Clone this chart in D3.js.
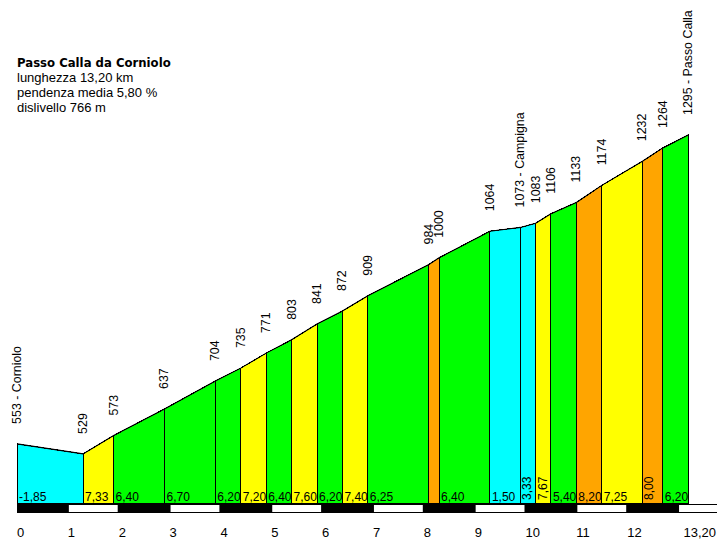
<!DOCTYPE html>
<html>
<head>
<meta charset="utf-8">
<script src="https://cdn.jsdelivr.net/npm/d3@7"></script>
<style>
  body { margin: 0; background: #fff; }
  svg text { font-family: "Liberation Sans", Arial, sans-serif; font-size: 12px; fill: #000; }
</style>
</head>
<body>
<script>
// punti del profilo: km progressivo e quota
const km = [0, 1.3, 1.9, 2.9, 3.9, 4.4, 4.9, 5.4, 5.9, 6.4, 6.9, 8.1, 8.3, 9.3, 9.9, 10.2, 10.5, 11.0, 11.5, 12.3, 12.7, 13.2];
const quote = [553, 529, 573, 637, 704, 735, 771, 803, 841, 872, 909, 984, 1000, 1064, 1073, 1083, 1106, 1133, 1174, 1232, 1264, 1295];
const localita = {0: "Corniolo", 14: "Campigna", 21: "Passo Calla"};
// pendenza di ogni tratto (%)
const pendenze = [-1.85, 7.33, 6.40, 6.70, 6.20, 7.20, 6.40, 7.60, 6.20, 7.40, 6.25, 8.00, 6.40, 1.50, 3.33, 7.67, 5.40, 8.20, 7.25, 8.00, 6.20];
const kmTicks = [0, 1, 2, 3, 4, 5, 6, 7, 8, 9, 10, 11, 12, 13.2];
const kmTickLabels = ["0", "1", "2", "3", "4", "5", "6", "7", "8", "9", "10", "11", "12", "13,20"];
const info = ["Passo Calla da Corniolo", "lunghezza 13,20 km", "pendenza media 5,80 %", "dislivello 766 m"];

(function() {
    const width = 717, height = 541,
      x0 = 17, pxKm = 50.85, yBase = 503;

    const x = d3.scaleLinear().domain([0, 13.2]).range([x0, x0 + 13.2 * pxKm]);
    const y = d3.scaleLinear().domain([411, 1295]).range([yBase, 135]);
    const color = d3.scaleThreshold().domain([4, 7, 8]).range(["#00ffff", "#00ff00", "#ffff00", "#ffa500"]);
    const fmt = v => d3.format(".2f")(v).replace("−", "-").replace(".", ",");

    const svg = d3.select("body").append("svg")
        .attr("width", width)
        .attr("height", height);

    const tratti = pendenze.map((p, i) => ({i: i, p: p, k0: km[i], k1: km[i + 1], q0: quote[i], q1: quote[i + 1]}));

    // tratti colorati
    svg.selectAll(".tratto")
        .data(tratti)
        .enter().append("path")
        .attr("class", "tratto")
        .attr("d", d => `M${x(d.k0)},${yBase}L${x(d.k0)},${y(d.q0)}L${x(d.k1)},${y(d.q1)}L${x(d.k1)},${yBase}Z`)
        .attr("fill", d => color(d.p))
        .attr("stroke", "#000")
        .attr("stroke-width", 1)
        .attr("shape-rendering", "crispEdges");

    // contorno del profilo
    svg.append("path")
        .datum(km)
        .attr("d", d3.line().x(d => x(d)).y((d, i) => y(quote[i])))
        .attr("fill", "none")
        .attr("stroke", "#000")
        .attr("stroke-width", 1.1);

    // pendenze in basso
    tratti.forEach(d => {
        const w = d.k1 - d.k0;
        if (w >= 0.45) {
            svg.append("text")
                .attr("x", x(d.k0) + 2)
                .attr("y", 501)
                .text(fmt(d.p));
        } else if (w >= 0.25) {
            svg.append("text")
                .attr("transform", `translate(${x(d.k0) + 11},500) rotate(-90)`)
                .text(fmt(d.p));
        }
    });

    // quote ruotate
    km.forEach((k, i) => {
        svg.append("text")
            .attr("transform", `translate(${x(k) + 4},${y(quote[i]) - 20}) rotate(-90)`)
            .style("font-size", "12.4px")
            .text(localita[i] ? quote[i] + " - " + localita[i] : quote[i]);
    });

    // scala chilometrica
    svg.append("rect")
        .attr("x", x0)
        .attr("y", 504)
        .attr("width", width - x0)
        .attr("height", 9)
        .attr("fill", "#000");
    svg.selectAll(".bianco")
        .data(d3.range(1, 14, 2))
        .enter().append("rect")
        .attr("class", "bianco")
        .attr("x", d => x(d) + 1)
        .attr("y", 505)
        .attr("width", pxKm - 2)
        .attr("height", 7)
        .attr("fill", "#fff");

    svg.selectAll(".kmlab")
        .data(kmTicks)
        .enter().append("text")
        .attr("class", "kmlab")
        .attr("x", (d, i) => i === kmTicks.length - 1 ? width - 1 : x(d))
        .attr("y", 537)
        .attr("text-anchor", (d, i) => i === kmTicks.length - 1 ? "end" : "start")
        .style("font-size", "13px")
        .text((d, i) => kmTickLabels[i]);

    // intestazione
    svg.selectAll(".info")
        .data(info)
        .enter().append("text")
        .attr("class", "info")
        .attr("x", 17)
        .attr("y", (d, i) => 67 + i * 15)
        .style("font-family", (d, i) => i === 0 ? "'DejaVu Sans', Verdana, sans-serif" : null)
        .style("font-weight", (d, i) => i === 0 ? "bold" : null)
        .style("font-size", (d, i) => i === 0 ? "11.7px" : "13px")
        .text(d => d);
})()
</script>
</body>
</html>
